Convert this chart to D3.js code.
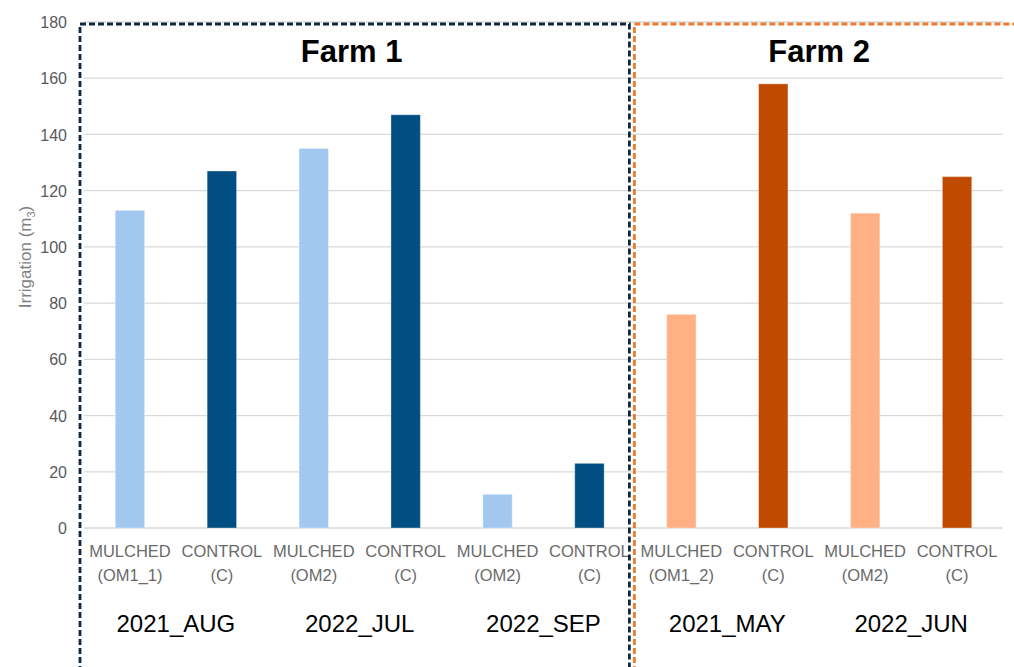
<!DOCTYPE html>
<html>
<head>
<meta charset="utf-8">
<script src="https://cdn.jsdelivr.net/npm/d3@7"></script>
<style>
  html, body { margin: 0; padding: 0; background: #fff; }
  svg { display: block; }
</style>
</head>
<body>
<svg id="chart" width="1014" height="667"></svg>
<script>
// ---- data ----
const treatments = ["MULCHED", "CONTROL", "MULCHED", "CONTROL", "MULCHED", "CONTROL", "MULCHED", "CONTROL", "MULCHED", "CONTROL"];
const codes      = ["(OM1_1)", "(C)", "(OM2)", "(C)", "(OM2)", "(C)", "(OM1_2)", "(C)", "(OM2)", "(C)"];
const periodOf   = ["2021_AUG", "2021_AUG", "2022_JUL", "2022_JUL", "2022_SEP", "2022_SEP", "2021_MAY", "2021_MAY", "2022_JUN", "2022_JUN"];
const farmOf     = ["Farm 1", "Farm 1", "Farm 1", "Farm 1", "Farm 1", "Farm 1", "Farm 2", "Farm 2", "Farm 2", "Farm 2"];
const irrigation = [113, 127, 135, 147, 12, 23, 76, 158, 112, 125];
const periods    = ["2021_AUG", "2022_JUL", "2022_SEP", "2021_MAY", "2022_JUN"];
const farms      = ["Farm 1", "Farm 2"];
const yTicks     = [0, 20, 40, 60, 80, 100, 120, 140, 160, 180];

// ---- styles ----
const barColor = {
  "Farm 1": { MULCHED: "#a3c8f0", CONTROL: "#014f82" },
  "Farm 2": { MULCHED: "#ffb084", CONTROL: "#c04a00" }
};
const farmBorder = { "Farm 1": "#0e2841", "Farm 2": "#f07a2c" };

const W = 1014, H = 667;
const margin = { left: 84, right: 11, top: 22, bottom: 139 };
const svg = d3.select("#chart");
svg.append("rect").attr("width", W).attr("height", H).attr("fill", "#fff");

const idx = d3.range(irrigation.length);
const x = d3.scaleBand().domain(idx).range([margin.left, W - margin.right])
  .paddingInner(0.68).paddingOuter(0.34);
const y = d3.scaleLinear().domain([0, 180]).range([H - margin.bottom, margin.top]);

// gridlines
svg.append("g").selectAll("line").data(yTicks).join("line")
  .attr("x1", margin.left).attr("x2", W - margin.right)
  .attr("y1", d => y(d)).attr("y2", d => y(d))
  .attr("stroke", "#d9d9d9").attr("stroke-width", 1.3);

// y axis labels
const yAxis = d3.axisLeft(y).tickValues(yTicks).tickSize(0).tickPadding(0);
const gy = svg.append("g").attr("transform", `translate(${margin.left - 17},0)`).call(yAxis);
gy.select(".domain").remove();
gy.selectAll("text").attr("font-family", "Liberation Sans, Arial, sans-serif")
  .attr("font-size", 16).attr("fill", "#595959").attr("dy", "0.35em");

// y axis title
const yt = svg.append("text")
  .attr("transform", `translate(31,${(y(0) + y(180)) / 2 - 18}) rotate(-90)`)
  .attr("text-anchor", "middle")
  .attr("font-family", "Liberation Sans, Arial, sans-serif")
  .attr("font-size", 17).attr("fill", "#7f7f7f");
yt.append("tspan").text("Irrigation (m");
yt.append("tspan").text("3").attr("font-size", 11).attr("dy", 4);
yt.append("tspan").text(")").attr("dy", -4);

// bars
svg.append("g").selectAll("rect").data(idx).join("rect")
  .attr("x", i => x(i)).attr("width", x.bandwidth())
  .attr("y", i => y(irrigation[i])).attr("height", i => y(0) - y(irrigation[i]))
  .attr("fill", i => barColor[farmOf[i]][treatments[i]])
  .attr("stroke", "#ffffff").attr("stroke-opacity", 0.35).attr("stroke-width", 1);

// category labels
const cat = svg.append("g").attr("font-family", "Liberation Sans, Arial, sans-serif")
  .attr("font-size", 16.5).attr("fill", "#6a6a6a").attr("text-anchor", "middle");
cat.selectAll("text.t").data(idx).join("text").attr("class", "t")
  .attr("x", i => x(i) + x.bandwidth() / 2).attr("y", y(0) + 29)
  .text(i => treatments[i]);
cat.selectAll("text.c").data(idx).join("text").attr("class", "c")
  .attr("x", i => x(i) + x.bandwidth() / 2).attr("y", y(0) + 53)
  .text(i => codes[i]);

// period labels
svg.append("g").selectAll("text").data(periods).join("text")
  .attr("x", p => {
    const members = idx.filter(i => periodOf[i] === p);
    return d3.mean(members, i => x(i) + x.bandwidth() / 2);
  })
  .attr("y", y(0) + 104)
  .attr("text-anchor", "middle")
  .attr("font-family", "Liberation Sans, Arial, sans-serif")
  .attr("font-size", 24).attr("fill", "#000")
  .text(p => p);

// farm boxes and titles
const step = x.step();
farms.forEach((f, k) => {
  const members = idx.filter(i => farmOf[i] === f);
  const first = d3.min(members), last = d3.max(members);
  const left = k === 0 ? margin.left - 4 : x(first) - x.paddingInner() * step / 2 - 1;
  const right = k === 0 ? x(last) + x.bandwidth() + x.paddingInner() * step / 2 - 6 : W + 5;
  const top = 24;
  const p = d3.path();
  p.moveTo(left, H + 5); p.lineTo(left, top); p.lineTo(right, top);
  if (k === 0) p.lineTo(right, H + 5);
  svg.append("path").attr("d", p.toString())
    .attr("fill", "none").attr("stroke", farmBorder[f])
    .attr("stroke-width", 2.8).attr("stroke-dasharray", "6,3");
  const cx = d3.mean(members, i => x(i) + x.bandwidth() / 2);
  svg.append("text").attr("x", k === 0 ? cx - 8 : cx).attr("y", 62)
    .attr("text-anchor", "middle")
    .attr("font-family", "Liberation Sans, Arial, sans-serif")
    .attr("font-weight", "bold").attr("font-size", 31).attr("fill", "#000")
    .text(f);
});
</script>
</body>
</html>
